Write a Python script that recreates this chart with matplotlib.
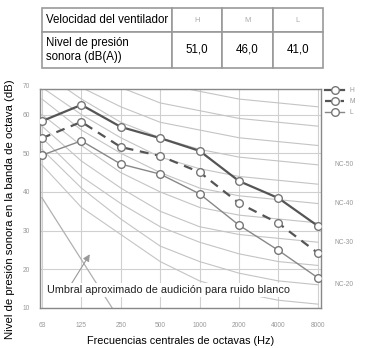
import numpy as np
import matplotlib
matplotlib.use("Agg")
import matplotlib.pyplot as plt

plt.rcParams['font.family'] = ['Liberation Sans', 'DejaVu Sans']

# --- data ---
freqs = ['63', '125', '250', '500', '1000', '2000', '4000', '8000']
speed_cols = ['H', 'M', 'L']
speed_levels = ['51,0', '46,0', '41,0']

spl_H = [58.3, 62.5, 56.8, 53.9, 50.6, 42.8, 38.4, 31.2]
spl_M = [53.9, 58.1, 51.6, 49.3, 45.1, 37.1, 31.9, 24.2]
spl_L = [49.5, 53.2, 47.2, 44.6, 39.5, 31.4, 24.9, 17.8]

# NC reference curves (63 Hz .. 8000 Hz)
nc_curves = {
    15: [47, 36, 29, 22, 17, 14, 12, 11],
    20: [51, 41, 33, 26, 22, 19, 17, 16],
    25: [54, 44, 37, 31, 27, 24, 22, 21],
    30: [57, 48, 41, 35, 31, 29, 28, 27],
    35: [60, 52, 45, 40, 36, 34, 33, 32],
    40: [64, 56, 50, 45, 41, 39, 38, 37],
    45: [67, 60, 54, 49, 46, 44, 43, 42],
    50: [71, 64, 58, 54, 51, 49, 48, 47],
    55: [74, 67, 62, 58, 56, 54, 53, 52],
    60: [77, 71, 67, 63, 61, 59, 58, 57],
    65: [80, 75, 71, 68, 66, 64, 63, 62],
    70: [83, 79, 75, 72, 71, 70, 69, 68],
}
nc_labeled = [50, 40, 30, 20]
threshold = [38.5, 22.5, 6.5]

y_ticks = [10, 20, 30, 40, 50, 60]

W, H = 365, 348
fig = plt.figure(figsize=(W / 100, H / 100), dpi=100)
ax = fig.add_axes([40 / W, 1 - 308 / H, (321 - 40) / W, (308 - 89) / H])

x = np.arange(len(freqs))
ax.set_xlim(-0.05, 7.08)
ax.set_ylim(10, 66.6)

for k, v in nc_curves.items():
    ax.plot(x, v, color='#c4c4c4', lw=0.8, zorder=1)
ax.plot(x[:3], threshold, color='#b0b0b0', lw=0.9, zorder=1)

ax.plot(x, spl_H, color='#555555', lw=1.6, marker='o', ms=5.5,
        mfc='white', mec='#777777', mew=1.0, label='H', zorder=4)
ax.plot(x, spl_M, color='#555555', lw=1.6, ls=(0, (4, 3)), marker='o', ms=5.5,
        mfc='white', mec='#777777', mew=1.0, label='M', zorder=4)
ax.plot(x, spl_L, color='#888888', lw=1.0, marker='o', ms=5.5,
        mfc='white', mec='#777777', mew=1.0, label='L', zorder=4)

ax.set_xticks(x)
ax.set_xticklabels(freqs)
ax.set_yticks(y_ticks)
ax.tick_params(labelsize=4.8, labelcolor='#999999', length=0)
ax.tick_params(axis='x', pad=10)
ax.tick_params(axis='y', pad=7)
ax.grid(True, color='#d0d0d0', lw=0.8)
ax.set_axisbelow(True)
for s in ax.spines.values():
    s.set_color('#888888')
    s.set_linewidth(1.0)
ax.text(-0.035, 1.01, '70', transform=ax.transAxes, ha='right', va='center',
        fontsize=4.8, color='#999999')

for k in nc_labeled:
    ax.annotate('NC-%d' % k, xy=(1.0, nc_curves[k][-1]), xycoords=('axes fraction', 'data'),
                xytext=(10, 0), textcoords='offset points', fontsize=4.8,
                color='#999999', va='center', ha='left')

ax.annotate('', xy=(1.25, 24.5), xytext=(0.7, 15.5),
            arrowprops=dict(arrowstyle='-|>', color='#999999', lw=0.8))
ax.text(0.12, 14.6, 'Umbral aproximado de audición para ruido blanco', fontsize=7.8,
        color='#222222', va='center', ha='left',
        bbox=dict(facecolor='white', edgecolor='none', pad=1.5), zorder=5)

ax.set_xlabel('Frecuencias centrales de octavas (Hz)', fontsize=7.8)
ax.xaxis.set_label_coords(0.5, -0.13)
ax.set_ylabel('Nivel de presión sonora en la banda de octava (dB)', fontsize=8.2)
ax.yaxis.set_label_coords(-0.088, 0.45)

fig.legend(loc='upper left', bbox_to_anchor=(322 / W, 1 - 84 / H), frameon=False,
           fontsize=4.8, handlelength=2.8, labelspacing=0.6, borderpad=0,
           labelcolor='#999999')

# --- table ---
tax = fig.add_axes([42 / W, 1 - 68 / H, (323 - 42) / W, 60 / H])
tax.axis('off')
tbl = tax.table(cellText=[['Velocidad del ventilador'] + speed_cols,
                          ['Nivel de presión\nsonora (dB(A))'] + speed_levels],
                colWidths=[130, 50, 51, 50], bbox=[0, 0, 1, 1])
tbl.auto_set_font_size(False)
for (r, c), cell in tbl.get_celld().items():
    cell.set_edgecolor('#999999')
    cell.set_linewidth(1.2)
    cell.set_height(24 / 60 if r == 0 else 36 / 60)
    txt = cell.get_text()
    txt.set_fontsize(8.3)
    if c == 0:
        cell.set_text_props(ha='left')
        cell.PAD = 0.03
    else:
        cell._loc = 'center'
        cell.set_text_props(ha='center')
    if r == 0 and c > 0:
        txt.set_color('#aaaaaa')
        txt.set_fontsize(5.5)

fig.savefig('out.png', dpi=100)
